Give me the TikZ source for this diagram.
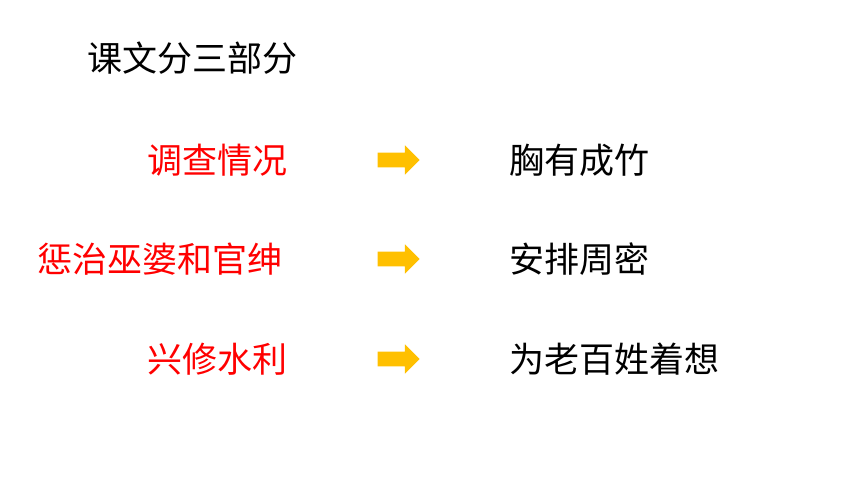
\documentclass[tikz,border=0pt]{standalone}
\usepackage{fontspec}
\setmainfont{Noto Sans CJK SC}
\usetikzlibrary{shapes.arrows}
\definecolor{gold}{HTML}{FFC000}
\tikzset{
  part/.style={text=red,anchor=east,inner sep=0pt,font=\fontsize{26.25pt}{30pt}\selectfont},
  result/.style={text=black,anchor=west,inner sep=0pt,font=\fontsize{26.25pt}{30pt}\selectfont},
  goarrow/.style={single arrow,fill=gold,draw=none,inner xsep=0pt,inner ysep=5.25pt,minimum height=31.5pt,minimum width=21.75pt,single arrow head extend=5.6pt,single arrow head indent=0pt}
}
\begin{document}
\begin{tikzpicture}[x=0.75pt,y=-0.75pt]
      \useasboundingbox (0,0) rectangle (860,484);
      \node[result,anchor=west] (title) at (87,58) {课文分三部分};
      % left column
      \node[part] (p1) at (288,160) {调查情况};
      \node[part] (p2) at (283,259) {惩治巫婆和官绅};
      \node[part] (p3) at (288,359) {兴修水利};
      % arrows
      \node[goarrow] (a1) at (395,160) {};
      \node[goarrow] (a2) at (395,259) {};
      \node[goarrow] (a3) at (395,359) {};
      % right column
      \node[result] (r1) at (509,160) {胸有成竹};
      \node[result] (r2) at (509,259) {安排周密};
      \node[result] (r3) at (509,359) {为老百姓着想};
    \end{tikzpicture}
\end{document}
